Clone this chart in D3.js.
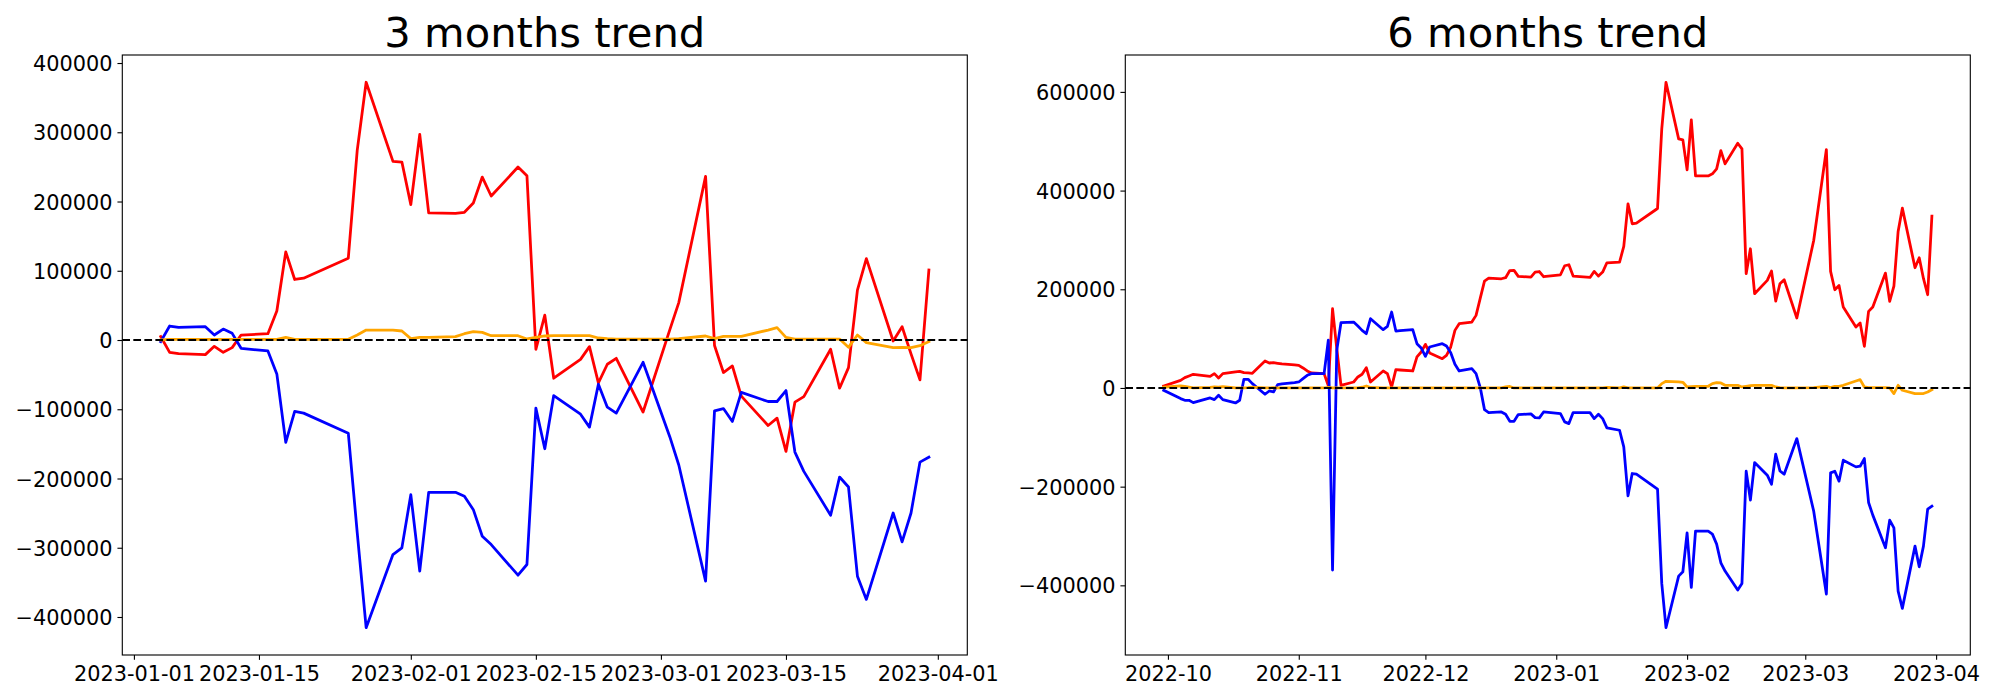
<!DOCTYPE html>
<html><head><meta charset="utf-8">
<script src="https://cdn.jsdelivr.net/npm/d3@7"></script>
<style>
body{margin:0;background:#fff;}
svg{display:block;}
text{font-family:"DejaVu Sans",sans-serif;}
</style>
</head><body>
<svg id="chart" width="2000" height="700"></svg>
<script>
// ---------- 3 months trend ----------
const dates3m = ["2023-01-04","2023-01-05","2023-01-06","2023-01-09","2023-01-10","2023-01-11","2023-01-12","2023-01-13","2023-01-16","2023-01-17","2023-01-18","2023-01-19","2023-01-20","2023-01-25","2023-01-26","2023-01-27","2023-01-30","2023-01-31",
"2023-02-01","2023-02-02","2023-02-03","2023-02-06","2023-02-07","2023-02-08","2023-02-09","2023-02-10","2023-02-13","2023-02-14","2023-02-15","2023-02-16","2023-02-17","2023-02-20","2023-02-21","2023-02-22","2023-02-23","2023-02-24","2023-02-27",
"2023-03-02","2023-03-03","2023-03-06","2023-03-07","2023-03-08","2023-03-09","2023-03-10","2023-03-13","2023-03-14","2023-03-15","2023-03-16","2023-03-17","2023-03-20","2023-03-21","2023-03-22","2023-03-23","2023-03-24","2023-03-27","2023-03-28","2023-03-29","2023-03-30","2023-03-31"];
const red3m = [5000,-17800,-19700,-21100,-9100,-17800,-11000,7200,9100,41800,127300,87400,89300,118200,273800,372200,257900,257000,
195500,296800,183500,183000,184400,197900,235300,208000,249800,237300,-13400,36000,-55200,-27900,-9600,-62000,-35000,-26400,-104000,
15000,54000,236300,-8000,-47000,-37500,-81000,-123400,-112900,-160900,-89800,-81700,-13400,-69600,-39900,72000,117600,-1400,19200,-20000,-57600,101000];
const blue3m = [-2400,20200,18200,19200,7200,15800,9600,-12000,-15800,-49000,-147900,-103200,-105600,-134500,-278000,-415500,-309800,-300200,
-223400,-333800,-220000,-220000,-225700,-245000,-283400,-295400,-339600,-324200,-98400,-157000,-80200,-107100,-125800,-63800,-97000,-105600,-32200,
-140000,-180500,-348200,-102300,-99000,-117600,-75700,-88800,-88800,-73000,-161800,-189700,-253100,-197900,-212300,-341000,-374600,-249800,-291500,-249800,-176300,-169100];
const orange3m = [0,1000,1000,1000,1000,1000,1000,1000,1000,1000,3800,1000,1000,1000,7200,14400,14400,13000,
2000,3800,3800,4800,9100,12000,11000,6200,6200,1500,3800,5800,6200,6200,6200,2900,1900,1400,1400,
1400,1900,5800,1900,5300,5300,5300,14400,17800,3800,1400,1400,1400,1400,-10600,7200,-3800,-11000,-10600,-11000,-8200,-2400];
const xTicks3m = ["2023-01-01","2023-01-15","2023-02-01","2023-02-15","2023-03-01","2023-03-15","2023-04-01"];
const yTicks3m = [-400000,-300000,-200000,-100000,0,100000,200000,300000,400000];

// ---------- 6 months trend ----------
const dates6m = ["2022-09-30","2022-10-04","2022-10-05","2022-10-06","2022-10-07","2022-10-11","2022-10-12","2022-10-13","2022-10-14","2022-10-17","2022-10-18","2022-10-19","2022-10-20","2022-10-21","2022-10-24","2022-10-25","2022-10-26","2022-10-27","2022-10-28","2022-10-31",
"2022-11-01","2022-11-02","2022-11-03","2022-11-04","2022-11-07","2022-11-08","2022-11-09","2022-11-10","2022-11-11","2022-11-14","2022-11-15","2022-11-16","2022-11-17","2022-11-18","2022-11-21","2022-11-22","2022-11-23","2022-11-24","2022-11-25","2022-11-28","2022-11-29","2022-11-30",
"2022-12-01","2022-12-02","2022-12-05","2022-12-06","2022-12-07","2022-12-08","2022-12-09","2022-12-12","2022-12-13","2022-12-14","2022-12-15","2022-12-16","2022-12-19","2022-12-20","2022-12-21","2022-12-22","2022-12-23","2022-12-26","2022-12-27","2022-12-28","2022-12-29",
"2023-01-02","2023-01-03","2023-01-04","2023-01-05","2023-01-09","2023-01-10","2023-01-11","2023-01-12","2023-01-13","2023-01-16","2023-01-17","2023-01-18","2023-01-19","2023-01-20","2023-01-25","2023-01-26","2023-01-27","2023-01-30","2023-01-31",
"2023-02-01","2023-02-02","2023-02-03","2023-02-06","2023-02-07","2023-02-08","2023-02-09","2023-02-10","2023-02-13","2023-02-14","2023-02-15","2023-02-16","2023-02-17","2023-02-20","2023-02-21","2023-02-22","2023-02-23","2023-02-24","2023-02-27",
"2023-03-03","2023-03-06","2023-03-07","2023-03-08","2023-03-09","2023-03-10","2023-03-13","2023-03-14","2023-03-15","2023-03-16","2023-03-17","2023-03-20","2023-03-21","2023-03-22","2023-03-23","2023-03-24","2023-03-27","2023-03-28","2023-03-29","2023-03-30","2023-03-31"];
const red6m = [4000,15500,20900,24300,27700,23600,29000,20200,29000,32700,33700,31000,30400,29700,54700,50600,51300,49900,48600,46600,
45900,40500,34400,30400,29000,4500,160600,80000,5400,12100,22300,27700,41200,12100,34400,29000,2000,37100,36400,34400,62800,72900,
88400,70900,59400,66100,83000,116700,130200,133600,147100,182000,216600,222700,221300,223500,238000,238200,226100,224700,234800,236000,225400,
229400,247700,249700,226700,224000,236200,226700,234800,253700,255100,286800,373200,332700,334000,363700,525000,619500,504700,502700,
442000,543200,429800,429800,433900,444000,481100,454100,496000,484500,231500,282100,191000,218000,236900,176100,211200,219300,141700,
298900,483200,236200,199100,207800,164000,123500,131600,84400,155200,164000,232800,175400,206500,317200,364400,243600,263800,222000,188900,348200];
const blue6m = [-4700,-21600,-25000,-25000,-29700,-20200,-23600,-14800,-23600,-30400,-25000,17500,17500,8800,-12800,-6100,-8100,6700,8100,10800,
12100,18900,25600,29000,29000,97000,-369000,76300,132300,133600,125500,116700,110000,140400,118100,124800,153900,115400,116100,118100,89700,81000,
64100,83000,89700,85000,71500,47900,34400,39100,29000,700,-43900,-49900,-48600,-53300,-67500,-67500,-54000,-52600,-60100,-60700,-48600,
-52000,-68800,-72200,-49900,-49900,-62100,-53300,-62100,-81000,-85700,-119400,-218600,-173400,-174800,-205100,-396100,-485900,-381300,-372500,
-293500,-404200,-290200,-290200,-296200,-316500,-354300,-371000,-409600,-396100,-168700,-227400,-151200,-176800,-195000,-134300,-168000,-174800,-102600,
-249700,-417700,-172100,-168700,-188900,-146400,-159900,-158600,-143100,-232100,-257700,-323900,-267900,-283400,-411600,-446700,-320500,-362400,-320500,-245600,-239600];
const orange6m = [1500,4000,3000,1500,0,1000,2000,1500,2500,0,0,0,500,1500,0,0,500,0,0,0,
0,0,0,0,0,1000,0,0,0,0,0,1500,4000,1000,0,0,0,0,0,0,0,0,
0,0,0,0,0,0,0,0,0,0,0,0,0,2000,3000,0,0,0,0,0,0,
0,0,0,0,0,0,0,0,1000,0,2000,0,0,0,0,8800,13500,12500,11500,
2000,2700,3400,3400,8800,10800,10100,5400,5400,2000,3400,4800,5400,5400,5400,2000,700,0,0,
700,3400,700,3400,3400,5400,14200,16900,2000,700,700,700,0,-11500,5400,-4700,-11500,-11500,-11300,-8100,-3400];
const xTicks6m = ["2022-10-01","2022-11-01","2022-12-01","2023-01-01","2023-02-01","2023-03-01","2023-04-01"];
const yTicks6m = [-400000,-200000,0,200000,400000,600000];

const parse = d3.utcParse("%Y-%m-%d");
const svg = d3.select("#chart");
const LW = 2.78, DLW = 2.08, TICK = 4.86, PAD = 4.86, FS = 20.83;

function panel(cfg) {
  const {L, R, T, B} = cfg;
  const g = svg.append("g");
  const xs = cfg.dates.map(parse);
  const [x0, x1] = d3.extent(xs);
  const xm = (x1 - x0) * 0.05;
  const x = d3.scaleUtc().domain([new Date(+x0 - xm), new Date(+x1 + xm)]).range([L, R]);
  const allV = cfg.series.flatMap(s => s.values);
  const [y0, y1] = d3.extent(allV);
  const ym = (y1 - y0) * 0.05;
  const y = d3.scaleLinear().domain([y0 - ym, y1 + ym]).range([B, T]);

  const line = d3.line().x((d, i) => x(xs[i])).y(d => y(d));
  cfg.series.forEach(s => {
    g.append("path").datum(s.values).attr("d", line)
      .attr("fill", "none").attr("stroke", s.color).attr("stroke-width", LW)
      .attr("stroke-linejoin", "round").attr("stroke-linecap", "square");
  });
  // horizontal dashed zero line
  g.append("line").attr("x1", L).attr("x2", R).attr("y1", y(0)).attr("y2", y(0))
    .attr("stroke", "#000").attr("stroke-width", DLW).attr("stroke-dasharray", "7.7 3.33");

  // axes
  const xa = g.append("g").attr("transform", `translate(0,${B})`)
    .call(d3.axisBottom(x).tickValues(cfg.xTicks.map(parse)).tickFormat(d3.utcFormat(cfg.xFmt))
      .tickSize(TICK).tickSizeOuter(0).tickPadding(PAD));
  const ya = g.append("g").attr("transform", `translate(${L},0)`)
    .call(d3.axisLeft(y).tickValues(cfg.yTicks).tickFormat(v => (v < 0 ? "\u2212" : "") + Math.abs(v))
      .tickSize(TICK).tickSizeOuter(0).tickPadding(PAD));
  [xa, ya].forEach(a => {
    a.attr("font-family", "DejaVu Sans").attr("font-size", FS);
    a.select(".domain").remove();
    a.selectAll(".tick line").attr("stroke", "#000").attr("stroke-width", 1.11);
    a.selectAll(".tick text").attr("fill", "#000");
  });
  xa.selectAll(".tick text").attr("dy", "0.77em");
  ya.selectAll(".tick text").attr("dy", "0.36em");

  // frame
  g.append("rect").attr("x", L).attr("y", T).attr("width", R - L).attr("height", B - T)
    .attr("fill", "none").attr("stroke", "#000").attr("stroke-width", 1.11);

  // title
  g.append("text").attr("x", (L + R) / 2).attr("y", T - 8.33).attr("text-anchor", "middle")
    .attr("font-size", 41.67).attr("fill", "#000").text(cfg.title);
}

panel({L: 122.3, R: 967.3, T: 55, B: 655, title: "3 months trend",
  dates: dates3m, xTicks: xTicks3m, xFmt: "%Y-%m-%d", yTicks: yTicks3m,
  series: [{values: red3m, color: "red"}, {values: blue3m, color: "blue"}, {values: orange3m, color: "orange"}]});
panel({L: 1125.3, R: 1970.3, T: 55, B: 655, title: "6 months trend",
  dates: dates6m, xTicks: xTicks6m, xFmt: "%Y-%m", yTicks: yTicks6m,
  series: [{values: red6m, color: "red"}, {values: blue6m, color: "blue"}, {values: orange6m, color: "orange"}]});
</script>
</body></html>
